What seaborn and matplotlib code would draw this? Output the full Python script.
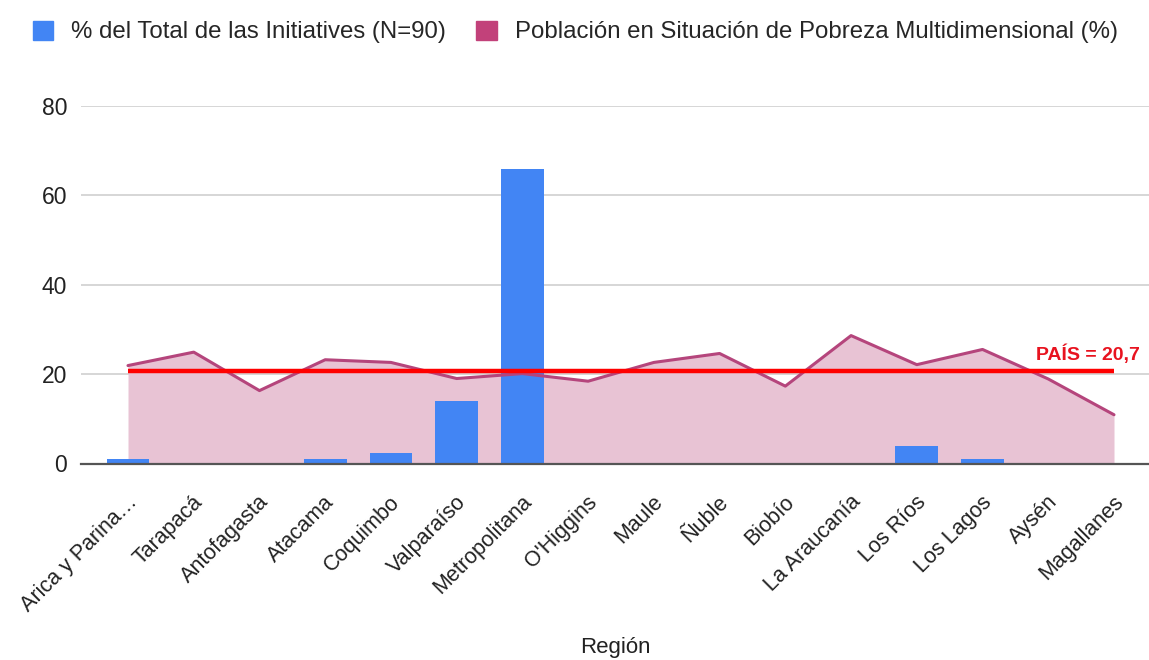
import numpy as np
import pandas as pd
import matplotlib
matplotlib.use("Agg")
import matplotlib.pyplot as plt
import matplotlib.transforms as mtransforms
from matplotlib.patches import Patch
import seaborn as sns

regions = ["Arica y Parina…", "Tarapacá", "Antofagasta", "Atacama", "Coquimbo",
           "Valparaíso", "Metropolitana", "O'Higgins", "Maule", "Ñuble", "Biobío",
           "La Araucanía", "Los Ríos", "Los Lagos", "Aysén", "Magallanes"]
iniciativas = [1.1, 0, 0, 1.1, 2.4, 13.9, 65.8, 0, 0, 0, 0, 0, 4.0, 1.1, 0, 0]
pobreza = [21.9, 24.9, 16.3, 23.2, 22.6, 19.0, 20.1, 18.4, 22.6, 24.6, 17.3,
           28.6, 22.1, 25.5, 18.9, 10.9]
pais = 20.7
yticks = [0, 20, 40, 60, 80]

label_bar = "% del Total de las Initiatives (N=90)"
label_line = "Población en Situación de Pobreza Multidimensional (%)"

sns.set_theme(style="white")
plt.rcParams['font.family'] = ['Liberation Sans', 'DejaVu Sans']

fig = plt.figure(figsize=(11.49, 6.60), dpi=100)
ax_bottom_px, ax_top_px = 463.5, 105.7
ax = fig.add_axes([81/1149, 1-ax_bottom_px/660, (1149-81)/1149, (ax_bottom_px-ax_top_px)/660])

df = pd.DataFrame({"Región": regions, "ini": iniciativas, "pob": pobreza})
x = np.arange(len(regions))

bar_color = "#4285F4"
line_color = "#B5457C"
fill_color = "#E8C3D4"

ax.fill_between(x, 0, df["pob"], color=fill_color, zorder=1, linewidth=0)
sns.barplot(data=df, x="Región", y="ini", color=bar_color, width=0.65,
            saturation=1, ax=ax, zorder=3, linewidth=0, edgecolor=bar_color)
sns.lineplot(x=x, y=df["pob"], color=line_color, linewidth=2.2, ax=ax,
             zorder=4, sort=False)
ax.hlines(pais, x[0], x[-1], color="#FF0000", linewidth=3.2, zorder=5)
ax.text(x[-1] - 1.18, pais + 1.6, f"PAÍS = {str(pais).replace('.', ',')}",
        color="#E8131F", fontsize=14, fontweight="bold", va="bottom", ha="left",
        zorder=6)

ax.set_xlim(-(128 - 81) / 65.73, 15 + (1149 - 1114) / 65.73)
ax.set_ylim(0, 80)
ax.set_yticks(yticks)
ax.set_yticklabels([str(v) for v in yticks], fontsize=16.5, color="#222222")
ax.yaxis.grid(True, color="#D0D0D0", linewidth=1.2, zorder=0)
ax.set_axisbelow(True)
for s in ["top", "right", "left"]:
    ax.spines[s].set_visible(False)
ax.spines["bottom"].set_color("#555555")
ax.spines["bottom"].set_linewidth(1.6)
ax.spines["bottom"].set_zorder(6)
ax.tick_params(axis="y", length=0, pad=10)
ax.tick_params(axis="x", length=0, pad=4)

ax.set_xticks(x)
ax.set_xticklabels(regions, rotation=45, ha="right", va="center",
                   rotation_mode="anchor", fontsize=15.5, color="#222222")
offset = mtransforms.ScaledTranslation(6/100, -30/100, fig.dpi_scale_trans)
for lab in ax.get_xticklabels():
    lab.set_transform(lab.get_transform() + offset)

ax.set_xlabel("Región", fontsize=16, color="#222222", va="center")
ax.xaxis.set_label_coords(0.5, -(648 - ax_bottom_px) / (ax_bottom_px - ax_top_px))
ax.set_ylabel("")

handles = [Patch(facecolor=bar_color, edgecolor=bar_color),
           Patch(facecolor="#C2417A", edgecolor="#C2417A")]
fig.legend(handles, [label_bar, label_line], loc="center left",
           bbox_to_anchor=(33/1149, 1 - 32/660), ncol=2, frameon=False,
           fontsize=17.3, handlelength=0.85, handleheight=0.85, handletextpad=0.75,
           columnspacing=1.25, borderaxespad=0, borderpad=0)

fig.savefig("out.png", dpi=100)
